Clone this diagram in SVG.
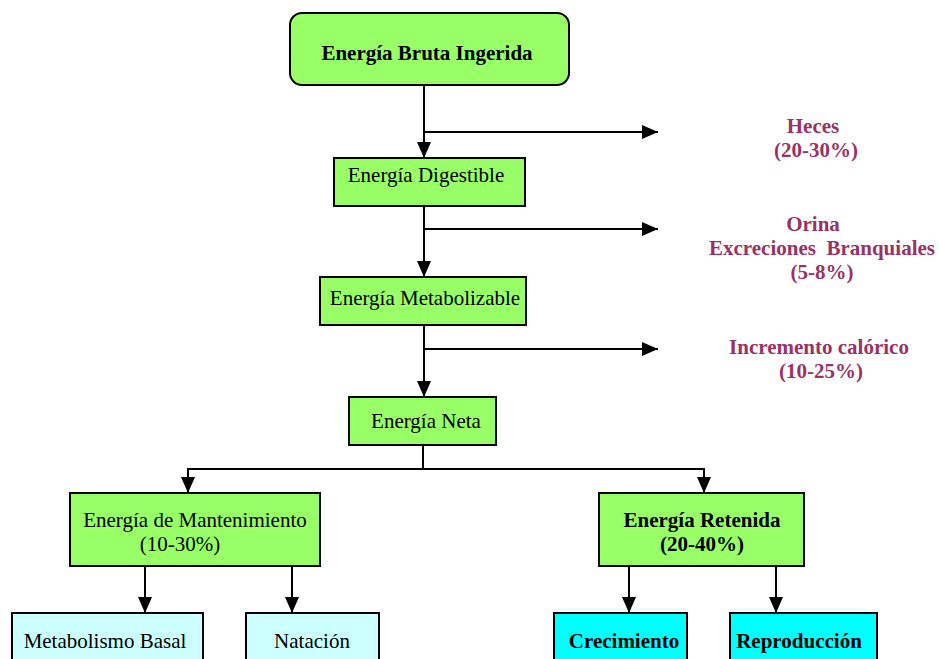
<svg xmlns="http://www.w3.org/2000/svg" width="939" height="659" viewBox="0 0 939 659">
<defs>
<marker id="ah" viewBox="0 0 16 14" refX="16" refY="7" markerWidth="16" markerHeight="14" markerUnits="userSpaceOnUse" orient="auto">
<path d="M0,0 L16,7 L0,14 Z" fill="#000"/>
</marker>
<style>
.g{fill:#99FF66;stroke:#000;stroke-width:2}
.lc{fill:#CCFFFF;stroke:#000;stroke-width:2}
.c{fill:#00FFFF;stroke:#000;stroke-width:2}
.t{font-family:"Liberation Serif","Times New Roman",serif;font-size:21px;fill:#000;text-anchor:middle}
.b{font-weight:bold}
.p{font-family:"Liberation Serif","Times New Roman",serif;font-size:21px;font-weight:bold;fill:#993366;text-anchor:middle;white-space:pre}
.ln{stroke:#000;stroke-width:2;fill:none}
.ar{stroke:#000;stroke-width:2;fill:none;marker-end:url(#ah)}
</style>
</defs>
<rect width="939" height="659" fill="#fff"/>
<g id="connectors">
<path class="ar" d="M424,85 V158"/>
<path class="ar" d="M424,132 H658"/>
<path class="ar" d="M424,206 V277"/>
<path class="ar" d="M424,229 H658"/>
<path class="ar" d="M424,325 V397"/>
<path class="ar" d="M424,349 H658"/>
<path class="ln" d="M423,445 V469"/>
<path class="ln" d="M188,469 H704"/>
<path class="ar" d="M188,468 V493"/>
<path class="ar" d="M704,468 V493"/>
<path class="ar" d="M145,566 V613"/>
<path class="ar" d="M292,566 V613"/>
<path class="ar" d="M629,566 V613"/>
<path class="ar" d="M776,566 V613"/>
</g>
<g id="bruta">
<rect class="g" x="290" y="13" width="279" height="72" rx="12"/>
<text class="t b" x="427" y="60">Energía Bruta Ingerida</text>
</g>
<g id="digestible">
<rect class="g" x="334" y="158" width="191" height="48"/>
<text class="t" x="426" y="182">Energía Digestible</text>
</g>
<g id="metabolizable">
<rect class="g" x="320" y="277" width="206" height="48"/>
<text class="t" x="425" y="305">Energía Metabolizable</text>
</g>
<g id="neta">
<rect class="g" x="349" y="397" width="147" height="48"/>
<text class="t" x="426" y="428">Energía Neta</text>
</g>
<g id="mantenimiento">
<rect class="g" x="70" y="493" width="250" height="73"/>
<text class="t" x="195" y="527">Energía de Mantenimiento</text>
<text class="t" x="180" y="551">(10-30%)</text>
</g>
<g id="retenida">
<rect class="g" x="599" y="493" width="205" height="73"/>
<text class="t b" x="702" y="527">Energía Retenida</text>
<text class="t b" x="702" y="551">(20-40%)</text>
</g>
<g id="basal">
<rect class="lc" x="12" y="613" width="191" height="56"/>
<text class="t" x="105" y="648">Metabolismo Basal</text>
</g>
<g id="natacion">
<rect class="lc" x="246" y="613" width="133" height="56"/>
<text class="t" x="312" y="648">Natación</text>
</g>
<g id="crecimiento">
<rect class="c" x="554" y="613" width="133" height="56"/>
<text class="t b" x="624" y="648">Crecimiento</text>
</g>
<g id="reproduccion">
<rect class="c" x="730" y="613" width="147" height="56"/>
<text class="t b" x="799" y="648">Reproducción</text>
</g>
<g id="heces">
<text class="p" x="813" y="133">Heces</text>
<text class="p" x="816" y="157">(20-30%)</text>
</g>
<g id="orina">
<text class="p" x="813" y="231">Orina</text>
<text class="p" x="822" y="255" xml:space="preserve">Excreciones  Branquiales</text>
<text class="p" x="822" y="279">(5-8%)</text>
</g>
<g id="incremento">
<text class="p" x="819" y="354">Incremento calórico</text>
<text class="p" x="821" y="378">(10-25%)</text>
</g>
</svg>
